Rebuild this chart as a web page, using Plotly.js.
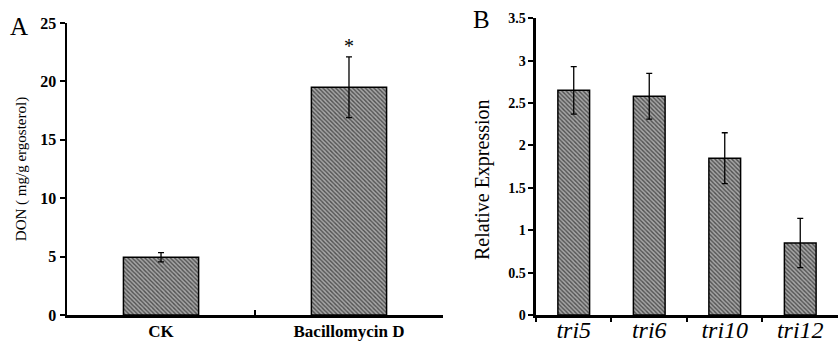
<!DOCTYPE html>
<html><head><meta charset="utf-8">
<script src="https://cdn.plot.ly/plotly-3.0.1.min.js"></script>
<style>html,body{margin:0;padding:0;background:#fff}#c{width:838px;height:343px}</style>
</head><body><div id="c"></div>
<script>
// Panel A
const catsA = ["CK", "Bacillomycin D"];
const valsA = [4.95, 19.5];
const errA = [0.4, 2.6];
// Panel B
const catsB = ["tri5", "tri6", "tri10", "tri12"];
const valsB = [2.65, 2.58, 1.85, 0.85];
const errB = [0.28, 0.27, 0.30, 0.29];
const ticksA = [0, 5, 10, 15, 20, 25];
const ticksB = [0, 0.5, 1, 1.5, 2, 2.5, 3, 3.5];
const tickTextB = ["0", "0.5", "1", "1.5", "2", "2.5", "3", "3.5"];

const pat = {shape: "\\", bgcolor: "#a6a6a6", fgcolor: "#505050", size: 3, solidity: 0.45};
const serif = "Liberation Serif";

const traces = [
  {type: "bar", x: catsA, y: valsA, xaxis: "x", yaxis: "y", width: 0.4,
   marker: {color: "#a0a0a0", pattern: pat, line: {color: "#000", width: 1.5}},
   error_y: {type: "data", array: errA, visible: true, color: "#000", thickness: 1.3, width: 3}},
  {type: "bar", x: catsB, y: valsB, xaxis: "x2", yaxis: "y2", width: 0.42,
   marker: {color: "#a0a0a0", pattern: pat, line: {color: "#000", width: 1.5}},
   error_y: {type: "data", array: errB, visible: true, color: "#000", thickness: 1.3, width: 3}}
];

const layout = {
  width: 838, height: 343, showlegend: false,
  margin: {l: 0, r: 0, t: 0, b: 0},
  paper_bgcolor: "#fff", plot_bgcolor: "#fff",
  font: {family: serif, color: "#000"},
  xaxis: {domain: [0.080, 0.5286], anchor: "y", showgrid: false, zeroline: false,
    showline: true, linecolor: "#000", linewidth: 2.5, ticks: "inside", tickson: "boundaries",
    ticklen: 5, tickwidth: 2.5, tickcolor: "#000", ticklabelstandoff: -1,
    tickfont: {family: serif, size: 17, weight: 700}, range: [-0.5, 1.5]},
  yaxis: {domain: [0.0816, 0.9329], anchor: "x", range: [0, 25], showgrid: false, zeroline: false,
    showline: true, linecolor: "#000", linewidth: 2.5, ticks: "outside", ticklen: 5, tickwidth: 2, tickcolor: "#000",
    tickvals: ticksA, ticktext: ticksA.map(String),
    tickfont: {family: serif, size: 16, weight: 700},
    title: {text: "DON ( mg/g ergosterol)", font: {family: serif, size: 15}, standoff: 10}},
  xaxis2: {domain: [0.6396, 1.0], anchor: "y2", showgrid: false, zeroline: false,
    showline: true, linecolor: "#000", linewidth: 2.5, ticks: "outside", tickson: "boundaries",
    ticklen: 4, tickwidth: 2, tickcolor: "#000", ticklabelstandoff: -8,
    tickfont: {family: serif, size: 24, style: "italic"}, range: [-0.5, 3.5]},
  yaxis2: {domain: [0.0816, 0.9466], anchor: "x2", range: [0, 3.5], showgrid: false, zeroline: false,
    showline: true, linecolor: "#000", linewidth: 2.5, ticks: "outside", ticklen: 5, tickwidth: 2, tickcolor: "#000",
    tickvals: ticksB, ticktext: tickTextB,
    tickfont: {family: serif, size: 14, weight: 700}},
  annotations: [
    {xref: "paper", yref: "paper", x: 19 / 838, y: 1 - 26 / 343, text: "A", showarrow: false,
     font: {family: serif, size: 25}, xanchor: "center", yanchor: "middle"},
    {xref: "paper", yref: "paper", x: 482 / 838, y: 1 - 20 / 343, text: "B", showarrow: false,
     font: {family: serif, size: 25}, xanchor: "center", yanchor: "middle"},
    {xref: "paper", yref: "paper", x: 483 / 838, y: 1 - 180 / 343, text: "Relative Expression", showarrow: false,
     textangle: -90, font: {family: serif, size: 20}, xanchor: "center", yanchor: "middle"},
    {xref: "x", yref: "y", x: "Bacillomycin D", y: 23.0, text: "*", showarrow: false,
     font: {family: serif, size: 20}, yanchor: "middle"}
  ]
};
Plotly.newPlot("c", traces, layout, {staticPlot: true});
</script></body></html>
